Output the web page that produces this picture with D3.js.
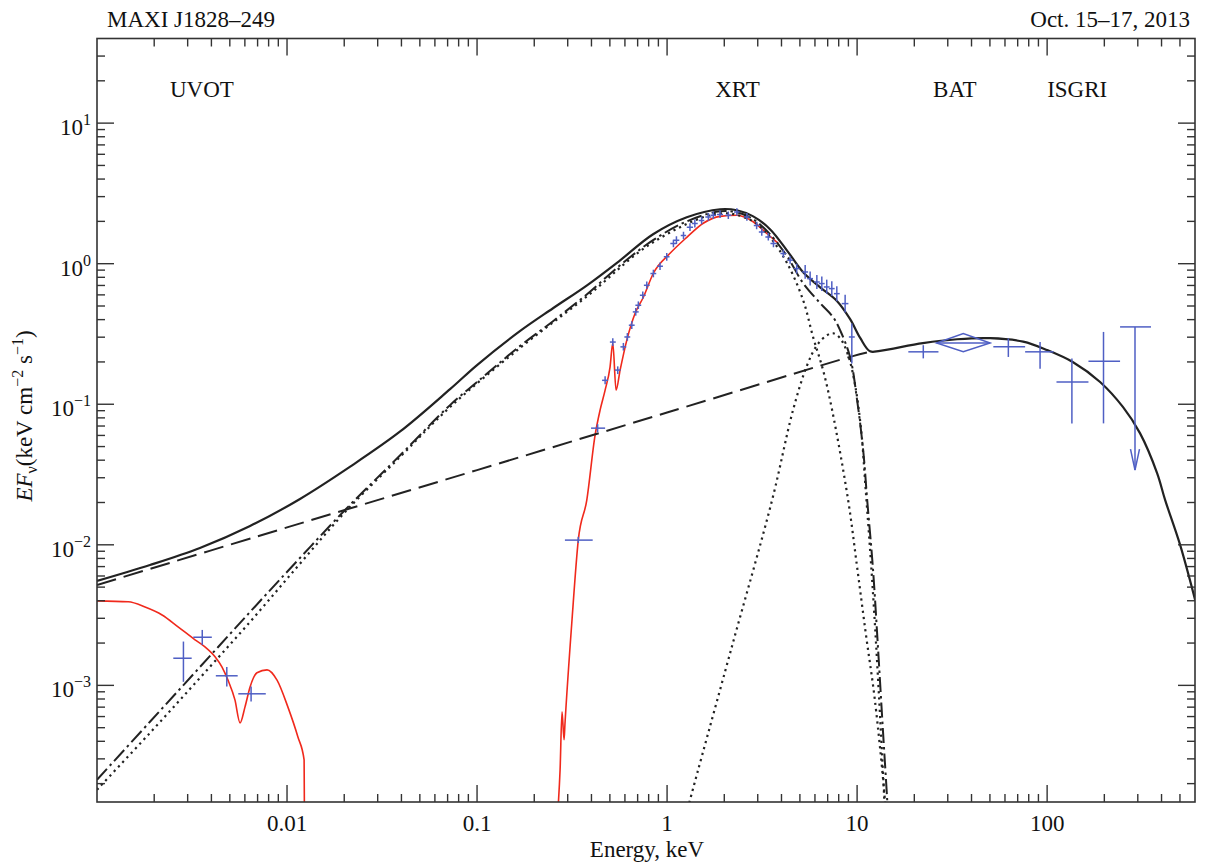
<!DOCTYPE html>
<html>
<head>
<meta charset="utf-8">
<script src="https://cdn.jsdelivr.net/npm/d3@7"></script>
<style>
  body { margin: 0; background: #fff; }
  svg { display: block; font-family: "Liberation Serif", "Times New Roman", serif; }
</style>
</head>
<body>
<svg id="chart" width="1205" height="865"></svg>
<script>
// ---- data: [energy keV, E*F_E] ----
const totalModel = [
  [0.001, 5.53e-3], [0.0019, 7.18e-3], [0.00348, 9.49e-3], [0.00639, 0.0136],
  [0.0117, 0.0212], [0.0215, 0.0360], [0.0394, 0.0640], [0.0721, 0.128],
  [0.1, 0.190], [0.168, 0.331], [0.251, 0.482], [0.379, 0.702], [0.566, 1.057],
  [0.844, 1.62], [1.27, 2.14], [1.90, 2.44], [2.33, 2.40], [2.84, 2.17],
  [3.48, 1.76], [4.28, 1.24], [5.20, 0.869], [6.39, 0.679], [7.85, 0.541],
  [9.19, 0.403], [10.4, 0.295], [11.7, 0.238], [13.2, 0.240], [22.2, 0.272],
  [33.6, 0.290], [50.1, 0.295], [74.8, 0.279], [100, 0.243], [137, 0.199],
  [190, 0.144], [251, 0.0953], [308, 0.0623], [379, 0.0324], [418, 0.0208],
  [501, 0.00998], [601, 0.00405]
];

const powerLaw = [
  [0.001, 5.18e-3], [0.01, 0.0133], [0.1, 0.0340], [1, 0.0873], [9.5, 0.22], [11.7, 0.236]
];

const discDashDot = [
  [0.001, 2.13e-4], [0.0019, 5.51e-4], [0.00348, 1.35e-3], [0.00639, 3.33e-3],
  [0.0113, 7.67e-3], [0.0202, 0.0177], [0.0394, 0.0434], [0.0721, 0.0986],
  [0.1, 0.144], [0.168, 0.259], [0.251, 0.390], [0.379, 0.607], [0.566, 0.975],
  [0.844, 1.47], [1.27, 2.0], [1.90, 2.36], [2.33, 2.32], [2.84, 2.07],
  [3.48, 1.62], [4.28, 1.13], [5.20, 0.726], [6.39, 0.524], [7.48, 0.416],
  [8.14, 0.336], [9.19, 0.216], [10.0, 0.107], [10.8, 0.0449], [11.3, 0.0208],
  [12.1, 6.95e-3], [12.9, 1.79e-3], [13.7, 4.59e-4], [14.4, 1.53e-4], [14.7, 9e-5]
];

const discDotted = [
  [0.001, 1.81e-4], [0.0019, 4.59e-4], [0.00348, 1.13e-3], [0.00639, 2.83e-3],
  [0.0113, 6.95e-3], [0.0202, 0.0171], [0.0394, 0.0423], [0.0721, 0.0955],
  [0.168, 0.251], [0.379, 0.586], [0.844, 1.42], [1.90, 2.28], [2.84, 2.0],
  [3.48, 1.54], [4.28, 1.01], [5.20, 0.55], [5.87, 0.300], [6.62, 0.175],
  [7.39, 0.0908], [8.97, 0.0208], [10.0, 6.95e-3], [11.1, 2.36e-3],
  [12.4, 7.88e-4], [14.0, 1.53e-4], [14.3, 9e-5]
];

const bumpDotted = [
  [1.26, 1.2e-4], [1.32, 1.53e-4], [2.17, 1.79e-3], [3.57, 0.0208], [4.60, 0.0908],
  [5.46, 0.19], [6.15, 0.263], [6.95, 0.31], [7.48, 0.32], [8.14, 0.295],
  [8.97, 0.223], [9.76, 0.137], [10.5, 0.0655], [11.1, 0.0245], [12.0, 5.62e-3],
  [12.9, 1.09e-3], [13.9, 1.53e-4], [14.1, 9e-5]
];

const redUV = [
  [0.001, 3.99e-3], [0.00146, 3.93e-3], [0.00179, 3.61e-3], [0.0022, 3.17e-3],
  [0.00267, 2.61e-3], [0.00328, 2.11e-3], [0.0037, 1.88e-3], [0.00418, 1.60e-3],
  [0.00455, 1.35e-3], [0.00489, 1.09e-3], [0.00532, 7.88e-4], [0.00566, 5.41e-4],
  [0.00601, 7.03e-4], [0.00639, 9.75e-4], [0.00695, 1.23e-3], [0.00785, 1.29e-3],
  [0.00886, 1.09e-3], [0.0101, 7.03e-4], [0.0114, 4.31e-4], [0.0123, 2.95e-4],
  [0.01236, 1.0e-4]
];

const redXray = [
  [0.2655, 1.2e-4], [0.2735, 2.51e-4], [0.280, 6.49e-4], [0.287, 4.1e-4], [0.290, 5.24e-4],
  [0.316, 2.92e-3], [0.341, 0.0108], [0.378, 0.0208], [0.418, 0.0603], [0.444, 0.0908],
  [0.472, 0.126], [0.501, 0.184], [0.518, 0.272], [0.539, 0.126], [0.566, 0.175],
  [0.614, 0.286], [0.679, 0.444], [0.75, 0.577], [0.847, 0.855], [1.04, 1.19],
  [1.27, 1.54], [1.55, 1.94], [1.90, 2.17], [2.33, 2.21], [2.85, 1.98],
  [3.35, 1.64], [3.84, 1.40]
];

// data points: [E, Elo, Ehi, F, Flo, Fhi]
const uvotPoints = [
  [2.85e-3, 2.52e-3, 3.15e-3, 1.56e-3, 1.06e-3, 2.05e-3],
  [3.58e-3, 3.21e-3, 4.02e-3, 2.20e-3, 1.94e-3, 2.48e-3],
  [4.82e-3, 4.22e-3, 5.50e-3, 1.17e-3, 9.82e-4, 1.35e-3],
  [6.47e-3, 5.54e-3, 7.73e-3, 8.71e-4, 7.67e-4, 9.82e-4]
];

const xrtPoints = [
  [0.341, 0.290, 0.406, 0.0108, 0.0103, 0.0114],
  [0.431, 0.398, 0.472, 0.0676, 0.0633, 0.0722],
  [0.472, 0.455, 0.489, 0.148, 0.139, 0.158],
  [0.518, 0.500, 0.537, 0.277, 0.260, 0.295],
  [0.550, 0.531, 0.570, 0.175, 0.164, 0.186],
  [0.589, 0.568, 0.610, 0.256, 0.241, 0.273],
  [0.618, 0.596, 0.640, 0.301, 0.283, 0.321],
  [0.652, 0.629, 0.675, 0.365, 0.343, 0.389],
  [0.684, 0.660, 0.709, 0.454, 0.427, 0.484],
  [0.706, 0.681, 0.731, 0.506, 0.476, 0.539],
  [0.745, 0.719, 0.772, 0.596, 0.560, 0.635],
  [0.782, 0.755, 0.810, 0.702, 0.660, 0.748],
  [0.847, 0.817, 0.877, 0.851, 0.800, 0.906],
  [0.918, 0.886, 0.951, 0.959, 0.901, 1.02],
  [0.996, 0.961, 1.03, 1.12, 1.05, 1.19],
  [1.08, 1.04, 1.12, 1.39, 1.31, 1.48],
  [1.12, 1.08, 1.16, 1.47, 1.38, 1.57],
  [1.22, 1.18, 1.26, 1.59, 1.49, 1.69],
  [1.32, 1.27, 1.37, 1.82, 1.71, 1.94],
  [1.40, 1.35, 1.45, 1.93, 1.81, 2.06],
  [1.52, 1.47, 1.57, 2.03, 1.91, 2.16],
  [1.65, 1.59, 1.71, 2.15, 2.02, 2.29],
  [1.75, 1.69, 1.81, 2.21, 2.08, 2.35],
  [1.90, 1.83, 1.97, 2.24, 2.11, 2.39],
  [2.10, 2.03, 2.18, 2.21, 2.08, 2.35],
  [2.33, 2.25, 2.41, 2.33, 2.19, 2.48],
  [2.63, 2.54, 2.72, 2.15, 2.02, 2.29],
  [2.96, 2.86, 3.07, 1.87, 1.76, 1.99],
  [3.15, 3.04, 3.26, 1.68, 1.58, 1.79],
  [3.41, 3.29, 3.53, 1.55, 1.46, 1.65],
  [3.63, 3.50, 3.76, 1.39, 1.31, 1.48],
  [4.09, 3.95, 4.24, 1.18, 1.11, 1.26],
  [4.44, 4.28, 4.60, 1.06, 1.00, 1.13],
  [4.81, 4.64, 4.98, 0.923, 0.85, 1.0],
  [5.33, 5.14, 5.52, 0.873, 0.78, 0.98],
  [5.66, 5.46, 5.86, 0.783, 0.70, 0.88],
  [6.14, 5.93, 6.36, 0.741, 0.66, 0.83],
  [6.52, 6.29, 6.75, 0.722, 0.64, 0.81],
  [6.92, 6.68, 7.17, 0.683, 0.61, 0.77],
  [7.36, 7.10, 7.62, 0.665, 0.59, 0.75],
  [7.82, 7.55, 8.10, 0.612, 0.54, 0.69],
  [8.65, 8.30, 9.0, 0.520, 0.45, 0.60],
  [9.38, 9.05, 9.72, 0.301, 0.195, 0.375]
];

const hardPoints = [
  [22.3, 18.6, 26.8, 0.236, 0.212, 0.263],
  [62.5, 52.1, 76.6, 0.256, 0.217, 0.294],
  [91.8, 76.6, 108, 0.236, 0.179, 0.277],
  [135, 112, 165, 0.144, 0.0731, 0.212],
  [198, 165, 242, 0.202, 0.0731, 0.327]
];
// point drawn as a diamond: [E, Elo, Ehi, F, Flo, Fhi]
const diamondPoint = [36.2, 26.2, 50.1, 0.273, 0.236, 0.318];
// upper limit: [E, Elo, Ehi, F, arrow tip F]
const upperLimit = [290, 242, 352, 0.355, 0.034];

const xTickValues = [0.01, 0.1, 1, 10, 100];
const xTickLabels = ["0.01", "0.1", "1", "10", "100"];
const yTickValues = [1e-3, 1e-2, 1e-1, 1, 10];
const yTickExps = ["\u22123", "\u22122", "\u22121", "0", "1"];
// instrument name, energy at the left edge of the label
const instruments = [["UVOT", 0.00242], ["XRT", 1.79], ["BAT", 25.1], ["ISGRI", 100]];

// ---- drawing ----
const svg = d3.select("#chart");
const pL = 97, pR = 1195, pT = 38.5, pB = 802;
const x = d3.scaleLog().domain([0.001, 600]).range([pL, pR]);
const y = d3.scaleLog().domain([1.48e-4, 40]).range([pB, pT]);

const ink = "#222";
const red = "#f0291c";
const blue = "#4f5fc4";

svg.append("defs").append("clipPath").attr("id", "plotClip")
  .append("rect").attr("x", pL).attr("y", pT)
  .attr("width", pR - pL).attr("height", pB - pT);

const plot = svg.append("g").attr("clip-path", "url(#plotClip)");

const smoothLine = d3.line()
  .x(d => x(d[0]))
  .y(d => y(d[1]))
  .curve(d3.curveCatmullRom.alpha(0.5));

const monoLine = d3.line()
  .x(d => x(d[0]))
  .y(d => y(d[1]))
  .curve(d3.curveMonotoneX);

function curve(data, gen, color, width, dash) {
  plot.append("path")
    .datum(data)
    .attr("d", gen)
    .attr("fill", "none")
    .attr("stroke", color)
    .attr("stroke-width", width)
    .attr("stroke-dasharray", dash || null);
}

// red folded model first, black components over it
curve(redUV, monoLine, red, 1.6);
curve(redXray, monoLine, red, 1.6);
curve(powerLaw, smoothLine, ink, 2, "20,8");
curve(discDotted, smoothLine, ink, 2.2, "2.2,4");
curve(bumpDotted, smoothLine, ink, 2.2, "2.2,4");
curve(discDashDot, smoothLine, ink, 2, "15,4,2.5,4");
curve(totalModel, smoothLine, ink, 2.2);

// crosses
function crosses(points) {
  const g = plot.append("g").attr("stroke", blue).attr("stroke-width", 1.5);
  points.forEach(p => {
    g.append("line").attr("x1", x(p[1])).attr("x2", x(p[2]))
      .attr("y1", y(p[3])).attr("y2", y(p[3]));
    g.append("line").attr("x1", x(p[0])).attr("x2", x(p[0]))
      .attr("y1", y(p[4])).attr("y2", y(p[5]));
  });
}
crosses(uvotPoints);
crosses(xrtPoints);
crosses(hardPoints);

// diamond point
const dp = diamondPoint;
plot.append("path")
  .attr("d", `M${x(dp[1])},${y(dp[3])}L${x(dp[0])},${y(dp[5])}L${x(dp[2])},${y(dp[3])}L${x(dp[0])},${y(dp[4])}Z`)
  .attr("fill", "none").attr("stroke", blue).attr("stroke-width", 1.5);
plot.append("line").attr("x1", x(dp[1])).attr("x2", x(dp[2]))
  .attr("y1", y(dp[3])).attr("y2", y(dp[3]))
  .attr("stroke", blue).attr("stroke-width", 1.5);

// upper limit with arrow
const ul = upperLimit;
const ulG = plot.append("g").attr("stroke", blue).attr("stroke-width", 1.5).attr("fill", "none");
ulG.append("line").attr("x1", x(ul[1])).attr("x2", x(ul[2])).attr("y1", y(ul[3])).attr("y2", y(ul[3]));
ulG.append("line").attr("x1", x(ul[0])).attr("x2", x(ul[0])).attr("y1", y(ul[3])).attr("y2", y(ul[4]));
ulG.append("path")
  .attr("d", `M${x(ul[0]) - 4.5},${y(ul[4]) - 21}L${x(ul[0])},${y(ul[4])}L${x(ul[0]) + 4.5},${y(ul[4]) - 21}`);

// frame and ticks
svg.append("rect").attr("x", pL).attr("y", pT)
  .attr("width", pR - pL).attr("height", pB - pT)
  .attr("fill", "none").attr("stroke", "#333").attr("stroke-width", 1.6);

const tickG = svg.append("g").attr("stroke", "#333").attr("stroke-width", 1.4);
const isMajor = v => Math.abs(Math.log10(v) - Math.round(Math.log10(v))) < 1e-6;
const atEdge = (v, s) => Math.abs(s(v) - s.range()[0]) < 1 || Math.abs(s(v) - s.range()[1]) < 1;

x.ticks().filter(v => !atEdge(v, x)).forEach(v => {
  const len = isMajor(v) ? 17 : 8;
  const px = x(v);
  tickG.append("line").attr("x1", px).attr("x2", px).attr("y1", pB).attr("y2", pB - len);
  tickG.append("line").attr("x1", px).attr("x2", px).attr("y1", pT).attr("y2", pT + len);
});
y.ticks().filter(v => !atEdge(v, y)).forEach(v => {
  const len = isMajor(v) ? 17 : 8;
  const py = y(v);
  tickG.append("line").attr("y1", py).attr("y2", py).attr("x1", pL).attr("x2", pL + len);
  tickG.append("line").attr("y1", py).attr("y2", py).attr("x1", pR).attr("x2", pR - len);
});

const fs = 23;
const textG = svg.append("g").attr("fill", "#111").attr("font-size", fs);

xTickValues.forEach((v, i) => {
  textG.append("text").attr("x", x(v)).attr("y", 831)
    .attr("text-anchor", "middle").text(xTickLabels[i]);
});
yTickValues.forEach((v, i) => {
  const t = textG.append("text").attr("x", 91).attr("y", y(v) + 12).attr("text-anchor", "end");
  t.append("tspan").text("10");
  t.append("tspan").attr("dy", -10).attr("font-size", 16).text(yTickExps[i]);
});

textG.append("text").attr("x", 647).attr("y", 857).attr("text-anchor", "middle").text("Energy, keV");

const yl = textG.append("text")
  .attr("transform", "translate(32,416) rotate(-90)")
  .attr("text-anchor", "middle");
yl.append("tspan").attr("font-style", "italic").text("EF");
yl.append("tspan").attr("dy", 5).attr("font-size", 16).text("\u03bd");
yl.append("tspan").attr("dy", -5).text("(keV cm");
yl.append("tspan").attr("dy", -9).attr("font-size", 16).text("\u22122");
yl.append("tspan").attr("dy", 9).text(" s");
yl.append("tspan").attr("dy", -9).attr("font-size", 16).text("\u22121");
yl.append("tspan").attr("dy", 9).text(")");

textG.append("text").attr("x", 107).attr("y", 27).text("MAXI J1828\u2013249");
textG.append("text").attr("x", 1190).attr("y", 27).attr("text-anchor", "end").text("Oct. 15\u201317, 2013");

instruments.forEach(d => {
  textG.append("text").attr("x", x(d[1])).attr("y", 97).text(d[0]);
});
</script>
</body>
</html>
